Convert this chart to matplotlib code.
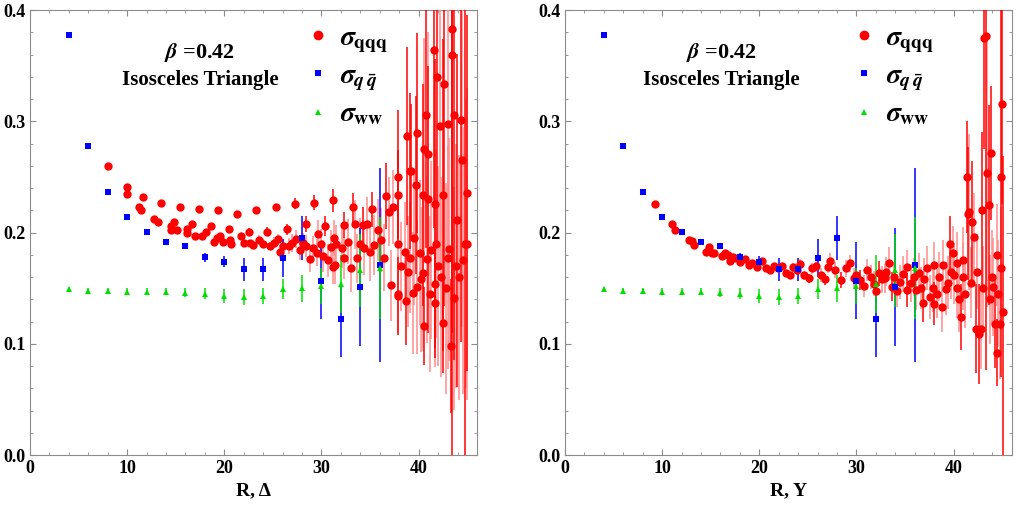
import numpy as np
import matplotlib; matplotlib.use('Agg')
import matplotlib.pyplot as plt
from matplotlib.lines import Line2D

# --------------------------
# --- data (R, sigma, error)

# q qbar and ww : same on both panels
qqbar = [(4, 0.378, 0.0005), (6, 0.278, 0.0005), (8, 0.237, 0.0005), (10, 0.214, 0.0008),
         (12, 0.201, 0.001), (14, 0.192, 0.0015), (16, 0.188, 0.003), (18, 0.178, 0.004),
         (20, 0.174, 0.005), (22, 0.167, 0.010), (24, 0.167, 0.010), (26, 0.177, 0.017),
         (28, 0.195, 0.020), (30, 0.157, 0.035), (32, 0.122, 0.034), (34, 0.151, 0.053),
         (36, 0.171, 0.087)]

ww = [(4, 0.149, 0.002), (6, 0.148, 0.002), (8, 0.148, 0.002), (10, 0.147, 0.003),
      (12, 0.147, 0.003), (14, 0.147, 0.003), (16, 0.146, 0.004), (18, 0.145, 0.005),
      (20, 0.143, 0.006), (22, 0.142, 0.007), (24, 0.143, 0.007), (26, 0.149, 0.009),
      (28, 0.150, 0.012), (30, 0.152, 0.016), (32, 0.154, 0.026), (34, 0.166, 0.033),
      (36, 0.168, 0.046)]

# qqq, R-Delta panel, solid error bars
qqq_left_a = [
    (8.0, 0.260, 0.001), (10.0, 0.241, 0.001), (11.6, 0.232, 0.001), (13.5, 0.227, 0.001),
    (15.4, 0.223, 0.001), (17.4, 0.221, 0.001), (19.35, 0.220, 0.001), (21.3, 0.217, 0.002),
    (23.3, 0.220, 0.003), (25.3, 0.223, 0.003), (27.25, 0.226, 0.005), (29.2, 0.227, 0.007),
    (31.2, 0.229, 0.010), (33.2, 0.223, 0.013), (35.2, 0.221, 0.016),
    (10.0, 0.235, 0.001), (11.4, 0.220, 0.001), (12.8, 0.212, 0.001), (14.5, 0.206, 0.001),
    (16.7, 0.208, 0.001), (18.6, 0.206, 0.002), (20.5, 0.203, 0.003), (22.5, 0.201, 0.003),
    (24.4, 0.201, 0.004), (26.4, 0.203, 0.005), (28.4, 0.208, 0.007), (30.4, 0.206, 0.009),
    (32.3, 0.207, 0.012), (34.3, 0.207, 0.016), (36.6, 0.233, 0.030), (37.9, 0.234, 0.040),
    (37.9, 0.250, 0.060), (39.1, 0.2555, 0.070), (39.7, 0.243, 0.080), (40.4, 0.234, 0.100),
    (41.0, 0.230, 0.120), (41.7, 0.226, 0.130), (42.5, 0.234, 0.140), (43.9, 0.211, 0.150),
    (45.0, 0.236, 0.160), (38.8, 0.2867, 0.080), (39.8, 0.2897, 0.090), (40.8, 0.306, 0.120),
    (41.6, 0.364, 0.160), (41.9, 0.340, 0.150), (42.6, 0.334, 0.200), (43.4, 0.383, 0.400),
    (43.4, 0.360, 0.250), (43.6, 0.3056, 0.220), (44.4, 0.3017, 0.200), (44.8, 0.190, 0.300),
    (37.9, 0.143, 0.035), (38.7, 0.139, 0.040), (40.6, 0.116, 0.035), (42.5, 0.119, 0.045),
    (43.3, 0.098, 0.060), (41.7, 0.137, 0.050), (39.2, 0.2556, 0.060),
]

# qqq, R-Delta panel, light error bars
qqq_left_b = [
    (11.2, 0.223, 0.001), (13.2, 0.210, 0.001), (14.8, 0.210, 0.001), (15.1, 0.202, 0.001),
    (14.5, 0.202, 0.001), (16.2, 0.203, 0.001), (16.2, 0.200, 0.001), (17.0, 0.197, 0.001),
    (17.7, 0.197, 0.001), (18.1, 0.201, 0.001), (18.9, 0.192, 0.002), (19.25, 0.195, 0.002),
    (19.6, 0.197, 0.002), (19.9, 0.192, 0.002), (20.6, 0.193, 0.002), (20.7, 0.190, 0.002),
    (21.7, 0.197, 0.003), (22.0, 0.191, 0.003), (22.6, 0.1905, 0.003), (23.0, 0.189, 0.003),
    (23.6, 0.1935, 0.004), (24.0, 0.190, 0.004), (24.7, 0.188, 0.004), (25.1, 0.191, 0.005),
    (25.5, 0.194, 0.005), (25.7, 0.1825, 0.006), (26.0, 0.188, 0.006), (26.7, 0.188, 0.007),
    (27.0, 0.191, 0.008), (27.4, 0.1945, 0.008), (27.8, 0.184, 0.009), (28.1, 0.191, 0.009),
    (28.4, 0.188, 0.010), (28.8, 0.176, 0.011), (29.1, 0.186, 0.011), (29.5, 0.182, 0.012),
    (29.6, 0.199, 0.012), (30.0, 0.190, 0.013), (30.2, 0.179, 0.014), (30.7, 0.175, 0.015),
    (31.0, 0.187, 0.015), (31.2, 0.1695, 0.016), (31.3, 0.195, 0.016), (31.5, 0.190, 0.017),
    (31.4, 0.171, 0.017), (32.1, 0.186, 0.018), (32.3, 0.177, 0.019), (32.7, 0.192, 0.020),
    (33.0, 0.168, 0.021), (33.4, 0.2076, 0.022), (33.7, 0.177, 0.022), (34.0, 0.190, 0.023),
    (34.4, 0.186, 0.024), (34.7, 0.2074, 0.025), (35.0, 0.183, 0.026), (35.4, 0.1888, 0.027),
    (35.8, 0.2026, 0.028), (36.1, 0.1933, 0.029), (36.4, 0.1775, 0.030), (36.9, 0.219, 0.031),
    (37.2, 0.1526, 0.032), (37.4, 0.223, 0.033), (37.9, 0.190, 0.034), (37.9, 0.1445, 0.035),
    (38.2, 0.170, 0.040), (38.6, 0.183, 0.045), (38.9, 0.165, 0.050), (39.1, 0.1775, 0.050),
    (39.4, 0.146, 0.055), (39.5, 0.195, 0.060), (39.8, 0.151, 0.060), (40.1, 0.182, 0.065),
    (40.2, 0.158, 0.065), (40.4, 0.164, 0.070), (40.6, 0.2748, 0.100), (40.9, 0.176, 0.075),
    (41.0, 0.2706, 0.110), (41.2, 0.145, 0.070), (41.3, 0.184, 0.080), (41.7, 0.154, 0.075),
    (41.8, 0.190, 0.085), (42.0, 0.170, 0.090), (42.2, 0.296, 0.130), (42.3, 0.160, 0.090),
    (42.8, 0.150, 0.095), (43.0, 0.1776, 0.100), (43.0, 0.298, 0.150), (43.1, 0.185, 0.100),
    (43.6, 0.141, 0.100), (43.8, 0.170, 0.110), (44.2, 0.160, 0.110), (44.5, 0.265, 0.150),
    (44.6, 0.175, 0.120), (44.9, 0.190, 0.130), (45.0, 0.190, 0.140),
]

# qqq, R-Y panel, solid error bars
qqq_right_a = [
    (9.3, 0.226, 0.001), (11.06, 0.2074, 0.001), (12.8, 0.1933, 0.001), (14.5, 0.1825, 0.001),
    (16.2, 0.1786, 0.001), (18.0, 0.1735, 0.002), (19.8, 0.1693, 0.002), (21.5, 0.1699, 0.003),
    (23.2, 0.1618, 0.003), (25.1, 0.1588, 0.004), (26.8, 0.158, 0.005), (28.4, 0.1573, 0.007),
    (30.4, 0.1574, 0.009), (32.3, 0.1633, 0.011), (33.7, 0.1513, 0.013), (35.2, 0.1483, 0.015),
    (36.8, 0.1369, 0.017), (38.0, 0.1363, 0.019), (39.6, 0.1897, 0.025), (40.8, 0.1243, 0.030),
    (41.4, 0.2501, 0.050), (41.5, 0.2171, 0.060), (41.9, 0.2096, 0.055), (42.3, 0.1138, 0.040),
    (42.6, 0.1093, 0.045), (42.9, 0.2201, 0.070), (43.1, 0.3754, 0.100), (43.3, 0.3764, 0.300),
    (43.6, 0.2246, 0.090), (43.8, 0.2717, 0.060), (44.3, 0.1183, 0.040), (44.5, 0.092, 0.030),
    (44.9, 0.2501, 0.180), (44.98, 0.316, 0.090), (45.1, 0.1288, 0.140),
]

# qqq, R-Y panel, light error bars
qqq_right_b = [
    (11.3, 0.202, 0.001), (13.05, 0.1928, 0.001), (13.3, 0.1888, 0.001), (14.8, 0.1867, 0.001),
    (15.1, 0.1816, 0.001), (15.35, 0.1816, 0.001), (16.5, 0.182, 0.001), (16.8, 0.1798, 0.001),
    (17.0, 0.1747, 0.001), (17.3, 0.178, 0.001), (17.4, 0.1768, 0.001), (18.5, 0.176, 0.002),
    (18.9, 0.1708, 0.002), (19.3, 0.173, 0.002), (20.3, 0.1747, 0.002), (20.7, 0.1678, 0.002),
    (21.1, 0.1663, 0.003), (21.9, 0.1678, 0.003), (22.3, 0.1699, 0.003), (22.8, 0.1633, 0.003),
    (23.5, 0.1687, 0.004), (23.9, 0.1663, 0.004), (24.2, 0.172, 0.004), (24.6, 0.1618, 0.004),
    (25.4, 0.1678, 0.005), (25.8, 0.1699, 0.005), (26.3, 0.1618, 0.006), (27.1, 0.1693, 0.006),
    (27.3, 0.1747, 0.007), (27.8, 0.1663, 0.007), (28.9, 0.1678, 0.008), (29.3, 0.1723, 0.008),
    (29.7, 0.1588, 0.009), (30.0, 0.162, 0.009), (30.8, 0.152, 0.010), (31.1, 0.1663, 0.010),
    (31.5, 0.160, 0.011), (31.8, 0.1543, 0.011), (32.0, 0.148, 0.012), (32.6, 0.158, 0.012),
    (32.9, 0.1588, 0.013), (33.0, 0.165, 0.013), (33.3, 0.1729, 0.014), (33.9, 0.160, 0.014),
    (34.2, 0.148, 0.015), (34.5, 0.1558, 0.015), (34.8, 0.163, 0.016), (35.2, 0.1687, 0.016),
    (35.6, 0.155, 0.017), (35.9, 0.160, 0.017), (36.1, 0.1483, 0.018), (36.4, 0.1633, 0.018),
    (36.6, 0.150, 0.019), (37.0, 0.158, 0.019), (37.3, 0.1684, 0.020), (37.6, 0.1423, 0.020),
    (37.9, 0.150, 0.021), (38.0, 0.1708, 0.021), (38.3, 0.145, 0.022), (38.5, 0.1603, 0.022),
    (38.8, 0.1333, 0.023), (38.9, 0.1708, 0.023), (39.2, 0.1498, 0.024), (39.4, 0.155, 0.024),
    (39.7, 0.165, 0.025), (39.9, 0.1813, 0.025), (40.0, 0.1618, 0.026), (40.3, 0.150, 0.027),
    (40.4, 0.1723, 0.028), (40.6, 0.140, 0.029), (41.0, 0.1753, 0.030), (41.0, 0.1603, 0.030),
    (41.2, 0.145, 0.031), (41.6, 0.2186, 0.070), (41.8, 0.155, 0.032), (42.1, 0.196, 0.040),
    (42.4, 0.165, 0.034), (42.8, 0.1138, 0.036), (43.0, 0.150, 0.038), (43.4, 0.2532, 0.120),
    (43.7, 0.140, 0.040), (44.0, 0.160, 0.042), (44.1, 0.1513, 0.044), (44.5, 0.1798, 0.046),
    (44.6, 0.145, 0.048), (44.8, 0.1183, 0.050), (44.9, 0.1678, 0.055),
]

x_labels = ['R, \u0394', 'R, Y']

# --------------------------
# --- style

plt.rcParams['font.family'] = ['Liberation Serif', 'DejaVu Serif']
plt.rcParams['font.weight'] = 'bold'
plt.rcParams['mathtext.fontset'] = 'stix'

red = '#ff0000'
light_red = '#ff8c8c'
blue = '#0000ff'
green = '#00e000'
frame = '#8c8c8c'


def draw_series(ax, pts, color, ecolor, marker, ms):
    a = np.array(pts)
    ax.errorbar(a[:, 0], a[:, 1], yerr=a[:, 2], fmt=marker, color=color, ecolor=ecolor,
                ms=ms, mew=0, elinewidth=1.1, capsize=2, capthick=1.1, zorder=3)


def make_panel(ax, qqq_a, qqq_b, xlabel, text_x, legend_x):
    draw_series(ax, qqq_b, red, light_red, 'o', 6)
    draw_series(ax, qqq_a, red, red, 'o', 6)
    draw_series(ax, qqbar, blue, blue, 's', 4)
    draw_series(ax, ww, green, green, '^', 4.5)

    ax.set_xlim(0, 46)
    ax.set_ylim(0, 0.4)
    ax.set_xticks([0, 10, 20, 30, 40])
    ax.set_xticks(np.arange(0, 46, 2), minor=True)
    ax.set_yticks([0.0, 0.1, 0.2, 0.3, 0.4])
    ax.set_yticks(np.arange(0, 0.401, 0.02), minor=True)
    ax.set_yticklabels(['0.0', '0.1', '0.2', '0.3', '0.4'])
    ax.tick_params(which='both', direction='in', top=True, right=True, color=frame,
                   labelsize=13)
    ax.tick_params(which='major', length=4)
    ax.tick_params(which='minor', length=2)
    for s in ax.spines.values():
        s.set_color(frame)
    ax.set_xlabel(xlabel, fontsize=14, fontweight='bold')

    ax.text(text_x, 0.905, r'$\beta$ =0.42', transform=ax.transAxes, ha='center',
            va='center', fontsize=16, fontweight='bold')
    ax.text(text_x, 0.843, 'Isosceles Triangle', transform=ax.transAxes, ha='center',
            va='center', fontsize=15, fontweight='bold')

    handles = [Line2D([], [], ls='', marker='o', color=red, ms=7, mew=0),
               Line2D([], [], ls='', marker='s', color=blue, ms=5, mew=0),
               Line2D([], [], ls='', marker='^', color=green, ms=5, mew=0)]
    labels = [r'$\sigma_{\mathbf{qqq}}$', r'$\sigma_{\boldsymbol{q\,\bar{q}}}$',
              r'$\sigma_{\mathbf{ww}}$']
    ax.legend(handles, labels, loc='upper left', bbox_to_anchor=(legend_x, 1.0),
              frameon=False, fontsize=20, handlelength=0.8, handletextpad=0.4,
              labelspacing=0.32, borderaxespad=0.15)


fig = plt.figure(figsize=(10.18, 5.08), dpi=100)
ax1 = fig.add_axes([0.0295, 0.104, 0.439, 0.876])
ax2 = fig.add_axes([0.555, 0.104, 0.439, 0.876])

make_panel(ax1, qqq_left_a, qqq_left_b, x_labels[0], 0.38, 0.585)
make_panel(ax2, qqq_right_a, qqq_right_b, x_labels[1], 0.35, 0.61)

fig.savefig('out.png', dpi=100)
